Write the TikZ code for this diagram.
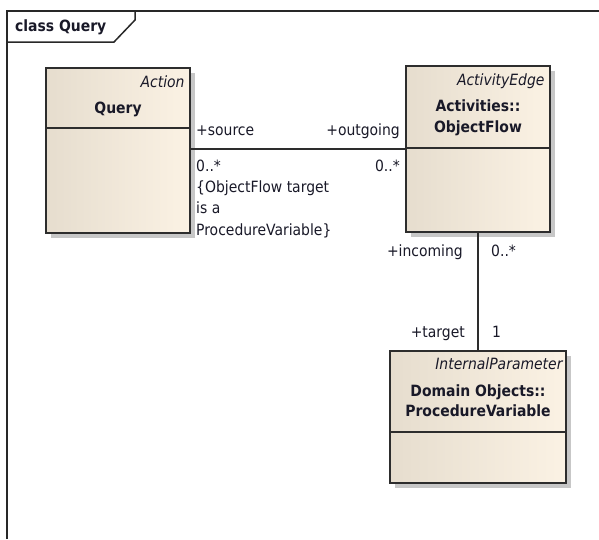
\documentclass[tikz,border=0pt]{standalone}
\usepackage{fontspec}
\setmainfont{DejaVu Sans Condensed}
\usetikzlibrary{positioning, calc, shadows}
\definecolor{boxleft}{RGB}{230,221,206}
\definecolor{boxright}{RGB}{251,242,228}
\definecolor{boxline}{RGB}{45,45,45}
\definecolor{frameline}{RGB}{40,40,40}
\definecolor{umltext}{RGB}{25,25,40}
\tikzset{>=stealth,
	classbox/.style={draw=boxline, line width=1.4pt, left color=boxleft, right color=boxright, inner sep=0pt,
		drop shadow={shadow xshift=5pt, shadow yshift=-5pt, fill=black!22, opacity=1}},
	umllabel/.style={text=umltext, inner sep=0pt, font=\fontsize{15.5}{21}\selectfont},
	umlname/.style={text=umltext, inner sep=0pt, font=\fontsize{15.5}{21}\selectfont\bfseries},
	umlstereo/.style={text=umltext, inner sep=0pt, font=\fontsize{15.5}{21}\selectfont\itshape},
	umlline/.style={boxline, line width=1.4pt}}

\begin{document}
\begin{tikzpicture}[x=1pt, y=-1pt]

			\useasboundingbox (0,0) rectangle (599,539);

			% frame and its tab
			\draw [frameline, line width=1.5pt] (7,539) -- (7,11) -- (599,11);
			\draw [frameline, line width=1.5pt] (7,42) -- (114,42) -- (135,20) -- (135,11);
			\node [umlname, anchor=base west] (title) at (15,31) {class Query};

			% classes
			\node [classbox, minimum width=144pt, minimum height=165pt] (query) at (118,150.5) {};
			\draw [umlline] (query.west |- 0,128) -- (query.east |- 0,128);
			\node [umlstereo, anchor=base east] (query-stereo) at ($(query.north east)+(-6,20)$) {Action};
			\node [umlname, anchor=base] (query-name) at ($(query.north)+(0,46)$) {Query};

			\node [classbox, minimum width=144pt, minimum height=166pt] (flow) at (478,149) {};
			\draw [umlline] (flow.west |- 0,148) -- (flow.east |- 0,148);
			\node [umlstereo, anchor=base east] (flow-stereo) at ($(flow.north east)+(-6,20)$) {ActivityEdge};
			\node [umlname, anchor=base] (flow-pkg) at ($(flow.north)+(0,46)$) {Activities::};
			\node [umlname, anchor=base] (flow-name) at ($(flow.north)+(0,67)$) {ObjectFlow};

			\node [classbox, minimum width=176pt, minimum height=132pt] (var) at (478,417) {};
			\draw [umlline] (var.west |- 0,432) -- (var.east |- 0,432);
			\node [umlstereo, anchor=base east] (var-stereo) at ($(var.north east)+(-4,19)$) {InternalParameter};
			\node [umlname, anchor=base] (var-pkg) at ($(var.north)+(0,46)$) {Domain Objects::};
			\node [umlname, anchor=base] (var-name) at ($(var.north)+(0,66)$) {ProcedureVariable};

			% associations
			\draw [umlline] (query.east |- flow.west) -- (flow.west);
			\draw [umlline] (flow.south) -- (var.north);

			\node [umllabel, anchor=base west] (src-role) at (196,135) {+source};
			\node [umllabel, anchor=base west] (src-mult) at (196,171) {0..*};
			\node [umllabel, anchor=base west] (cons-a) at (196,192) {\{ObjectFlow target};
			\node [umllabel, anchor=base west] (cons-b) at (196,213) {is a};
			\node [umllabel, anchor=base west] (cons-c) at (196,235) {ProcedureVariable\}};
			\node [umllabel, anchor=base east] (out-role) at (400,135) {+outgoing};
			\node [umllabel, anchor=base east] (out-mult) at (400,171) {0..*};

			\node [umllabel, anchor=base east] (in-role) at (463,256) {+incoming};
			\node [umllabel, anchor=base west] (in-mult) at (491,256) {0..*};
			\node [umllabel, anchor=base east] (tgt-role) at (465,337) {+target};
			\node [umllabel, anchor=base west] (tgt-mult) at (492,337) {1};

\end{tikzpicture}
\end{document}
